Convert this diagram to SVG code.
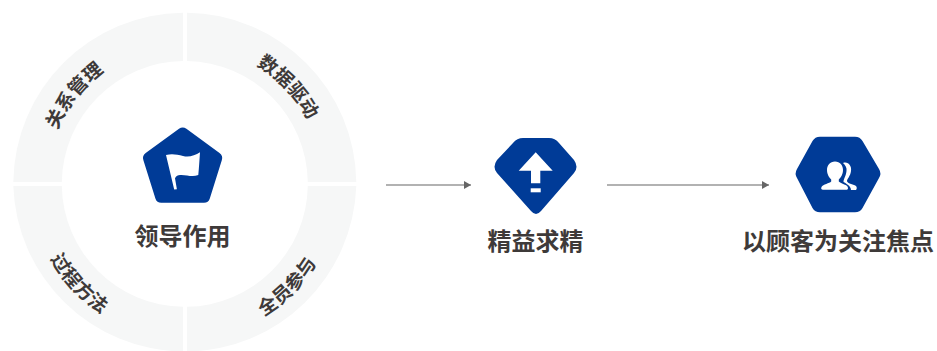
<svg xmlns="http://www.w3.org/2000/svg" width="937" height="351" viewBox="0 0 937 351">
<style>
.seg{fill:#f6f7f7}
.icon{fill:#003b97}
.w{fill:#fff}
text{font-family:"Noto Sans CJK SC","Noto Sans",sans-serif;fill:#3e3a39}
.t{font-size:24px;font-weight:700;text-anchor:middle}
.r{font-size:19px;font-weight:700;text-anchor:middle}
.c{stroke:#666;stroke-width:1.2;fill:none;marker-end:url(#a)}
</style>
<defs>
<marker id="a" markerUnits="userSpaceOnUse" markerWidth="8" markerHeight="9" refX="7" refY="4" orient="auto"><path d="M0,0L7,4L0,8Z" fill="#666"/></marker>
<path id="p1" d="M46.5,184A138.5,138.5 0 0 1 184.8,45.5"/>
<path id="p2" d="M184.8,45.5A138.5,138.5 0 0 1 323.5,184"/>
<path id="p3" d="M31,184A154,154 0 0 0 184.8,338"/>
<path id="p4" d="M184.8,338A154,154 0 0 0 338.5,184"/>
</defs>
<g id="ring">
<path class="seg" d="M183,12.7A171.5,171.5 0 0 0 13.3,182H61.8A123,123 0 0 1 183,61Z"/>
<path class="seg" d="M187,12.7A171.5,171.5 0 0 1 356.3,182H307.8A123,123 0 0 0 187,61Z"/>
<path class="seg" d="M183,351.5A171.5,171.5 0 0 1 13.3,186H61.8A123,123 0 0 0 183,306.8Z"/>
<path class="seg" d="M187,351.5A171.5,171.5 0 0 0 356.3,186H307.8A123,123 0 0 1 187,306.8Z"/>
</g>
<g id="node-relation"><text class="r"><textPath href="#p1" startOffset="43%">关系管理</textPath></text></g>
<g id="node-data"><text class="r"><textPath href="#p2" startOffset="52%">数据驱动</textPath></text></g>
<g id="node-process"><text class="r"><textPath href="#p3" startOffset="48%">过程方法</textPath></text></g>
<g id="node-people"><text class="r"><textPath href="#p4" startOffset="50%">全员参与</textPath></text></g>
<g id="connectors">
<path class="c" d="M386,185H471"/>
<path class="c" d="M607,185H769"/>
</g>
<g id="node-leadership">
<path class="icon" d="M179,128.8Q182.7,126.2 186.4,128.8L219.5,153Q223.3,155.8 221.8,160.2L209.8,198.5Q208.4,202.8 204,202.8H161.2Q156.8,202.8 155.4,198.5L143.4,160.2Q141.9,155.8 145.7,153Z"/>
<path class="w" d="M166,155C172,153.5 177,154.5 183,156C189,157.5 195,155.5 200,152.3C199.5,160 199,168 198.3,175C192,177.5 186,174.5 180,175C178,175.2 176,176 175,178.3L176.9,189.3L174.2,189.6Z"/>
<text class="t" x="182.5" y="245">领导作用</text>
</g>
<g id="node-lean">
<path class="icon" d="M523,138H549Q555,138 559,143L574,160Q579,167 574,173L541,211Q536,217 531,211L497,173Q492,167 497,160L513,143Q517,138 523,138Z"/>
<path class="w" d="M535.7,152.3L552.7,170.7H540.3V183.3H531V170.7H518.7Z"/>
<rect class="w" x="530.7" y="188.3" width="10" height="4"/>
<text class="t" x="535.5" y="250">精益求精</text>
</g>
<g id="node-customer">
<path class="icon" d="M820,136.7H855Q860,136.7 862.5,141L879,169Q881.8,173.5 879,178L862.5,208Q860,212.3 855,212.3H820Q815,212.3 812.5,208L797,178Q794.3,173.5 797,169L812.5,141Q815,136.7 820,136.7Z"/>
<path class="w" d="M843,163C848,161 852,166 851,171C850.5,176 847,179 847,181C847,183.5 853,184 856,186C857,187 857,189 856,190H851C851,186 846,183.5 843.5,182C843.5,179 846,176 846.5,171C847,168 845.5,165 843,163Z"/>
<path class="w" d="M835,161.5C840,161.5 843,165.5 843,170C843,174.5 840.5,178 838.8,179.5V181.5C841,184 848,184.5 848,188C848,189.5 847,189.8 846,189.8H823C821.5,189.8 820.7,188.7 821.5,187C823,184 829.5,183.5 831.2,181.5V179.5C829.5,178 827,174.5 827,170C827,165.5 830,161.5 835,161.5Z"/>
<text class="t" x="838" y="250">以顾客为关注焦点</text>
</g>
</svg>
